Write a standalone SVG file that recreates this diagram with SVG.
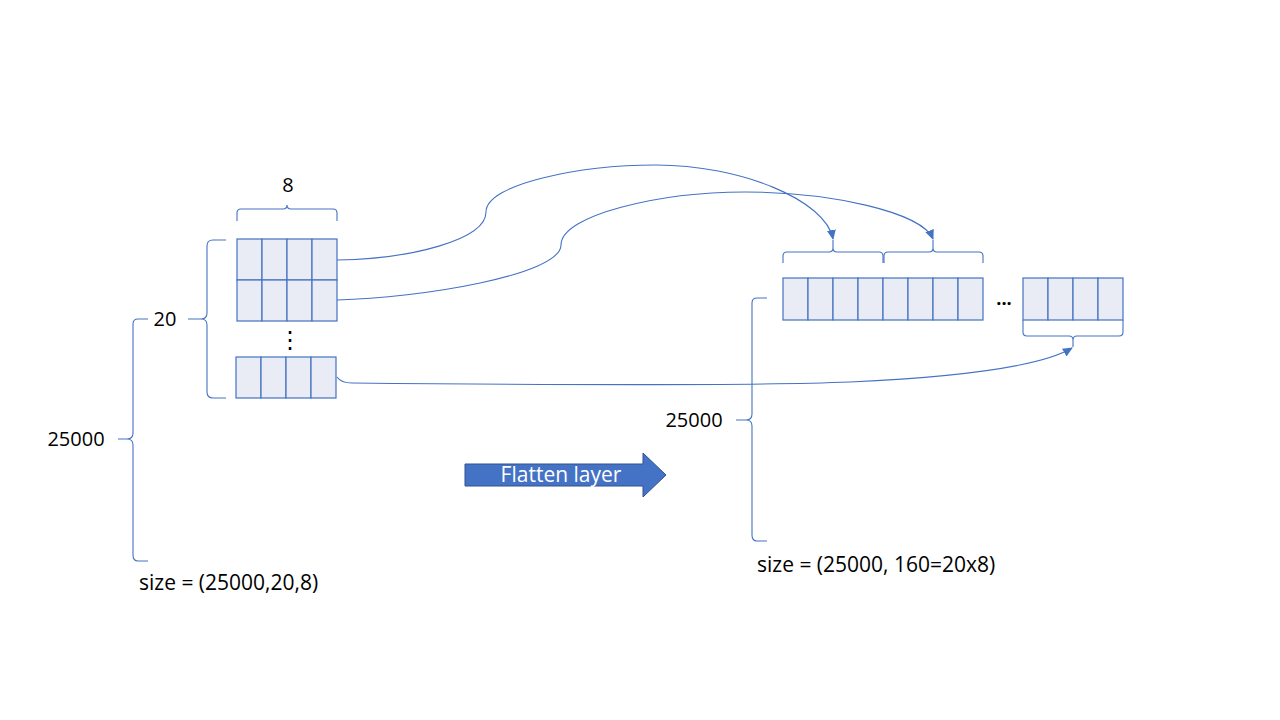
<svg xmlns="http://www.w3.org/2000/svg" width="1280" height="720" viewBox="0 0 1280 720">
<style>
.cell{fill:#E9EBF5;stroke:#4472C4;stroke-width:1.2}
.br{fill:none;stroke:#4472C4;stroke-width:1.1}
.con{fill:none;stroke:#4472C4;stroke-width:1.1}
.t{font-family:"Open Sans","Liberation Sans",sans-serif;font-size:20px;fill:#000}
.s{font-size:21px}
.tm{text-anchor:middle}
</style>
<defs>
<marker id="ah" markerUnits="userSpaceOnUse" markerWidth="10" markerHeight="9" refX="9" refY="4.5" orient="auto">
<path d="M0,0 L10,4.5 L0,9 z" fill="#4472C4"/>
</marker>
</defs>
<rect width="1280" height="720" fill="#fff"/>

<g id="input-grid">
<rect class="cell" x="237" y="239" width="25" height="41"/>
<rect class="cell" x="262" y="239" width="25" height="41"/>
<rect class="cell" x="287" y="239" width="25" height="41"/>
<rect class="cell" x="312" y="239" width="25" height="41"/>
<rect class="cell" x="237" y="280" width="25" height="41"/>
<rect class="cell" x="262" y="280" width="25" height="41"/>
<rect class="cell" x="287" y="280" width="25" height="41"/>
<rect class="cell" x="312" y="280" width="25" height="41"/>
<text class="tm" x="290" y="348" style="font-family:'DejaVu Sans',sans-serif;font-size:24px;fill:#000">⋮</text>
<rect class="cell" x="236" y="357" width="25" height="41"/>
<rect class="cell" x="261" y="357" width="25" height="41"/>
<rect class="cell" x="286" y="357" width="25" height="41"/>
<rect class="cell" x="311" y="357" width="25" height="41"/>
</g>

<g id="input-braces">
<path class="br" d="M237,221 L237,213 Q237,209 241,209 L283,209 Q287,209 287,205 Q287,209 291,209 L333,209 Q337,209 337,213 L337,221"/>
<text class="t tm" x="288" y="192">8</text>
<path class="br" d="M226,240 L213,240 Q207,240 207,246 L207,313 Q207,319 201,319 L188,319 M201,319 Q207,319 207,325 L207,392 Q207,398 213,398 L226,398"/>
<text class="t tm" x="165" y="326">20</text>
<path class="br" d="M148,319 L138,319 Q133,319 133,324 L133,433 Q133,439 127,439 L118,439 M127,439 Q133,439 133,445 L133,555 Q133,561 138,561 L148,561"/>
<text class="t tm" x="76" y="446">25000</text>
<text class="t s" x="139" y="590">size = (25000,20,8)</text>
</g>

<g id="output-row">
<rect class="cell" x="783" y="278" width="25" height="42"/>
<rect class="cell" x="808" y="278" width="25" height="42"/>
<rect class="cell" x="833" y="278" width="25" height="42"/>
<rect class="cell" x="858" y="278" width="25" height="42"/>
<rect class="cell" x="883" y="278" width="25" height="42"/>
<rect class="cell" x="908" y="278" width="25" height="42"/>
<rect class="cell" x="933" y="278" width="25" height="42"/>
<rect class="cell" x="958" y="278" width="25" height="42"/>
<text class="t tm" x="1004" y="305" style="font-weight:bold;font-size:18px">...</text>
<rect class="cell" x="1023" y="278" width="25" height="42"/>
<rect class="cell" x="1048" y="278" width="25" height="42"/>
<rect class="cell" x="1073" y="278" width="25" height="42"/>
<rect class="cell" x="1098" y="278" width="25" height="42"/>
</g>

<g id="output-braces">
<path class="br" d="M783,263 L783,256 Q783,252 787,252 L829,252 Q833,252 833,248 L833,240 M833,248 Q833,252 837,252 L879,252 Q883,252 883,256 L883,263"/>
<path class="br" d="M884,263 L884,256 Q884,252 888,252 L929,252 Q933,252 933,248 L933,240 M933,248 Q933,252 937,252 L979,252 Q983,252 983,256 L983,263"/>
<path class="br" d="M1023,320 L1023,332 Q1023,336 1027,336 L1069,336 Q1073,336 1073,340 L1073,347 M1073,340 Q1073,336 1077,336 L1119,336 Q1123,336 1123,332 L1123,320"/>
<path class="br" d="M767,298 L757,298 Q752,298 752,303 L752,414 Q752,420 746,420 L736,420 M746,420 Q752,420 752,426 L752,535 Q752,541 757,541 L767,541"/>
<text class="t tm" x="694" y="427">25000</text>
<text class="t s" x="757" y="572">size = (25000, 160=20x8)</text>
</g>

<g id="flatten-arrow">
<polygon points="465,464 643,464 643,453 666,475 643,497 643,486 465,486" fill="#4472C4" stroke="#2F528F" stroke-width="1"/>
<text class="tm" x="561" y="482" style="font-family:'Open Sans','Liberation Sans',sans-serif;font-size:21px;fill:#fff">Flatten layer</text>
</g>

<g id="connectors">
<path class="con" marker-end="url(#ah)" d="M337,260 C410,259 486,240 486,212 C486,184 580,165 656,165 C740,165 826,200 833,239"/>
<path class="con" marker-end="url(#ah)" d="M337,300 C420,298 561,275 561,245 C561,215 660,192 745,192 C830,192 922,212 933,239"/>
<path class="con" marker-end="url(#ah)" d="M337,377 Q341,383 352,383 C560,385 750,386 850,382 C960,377 1040,367 1072,348"/>
</g>
</svg>
